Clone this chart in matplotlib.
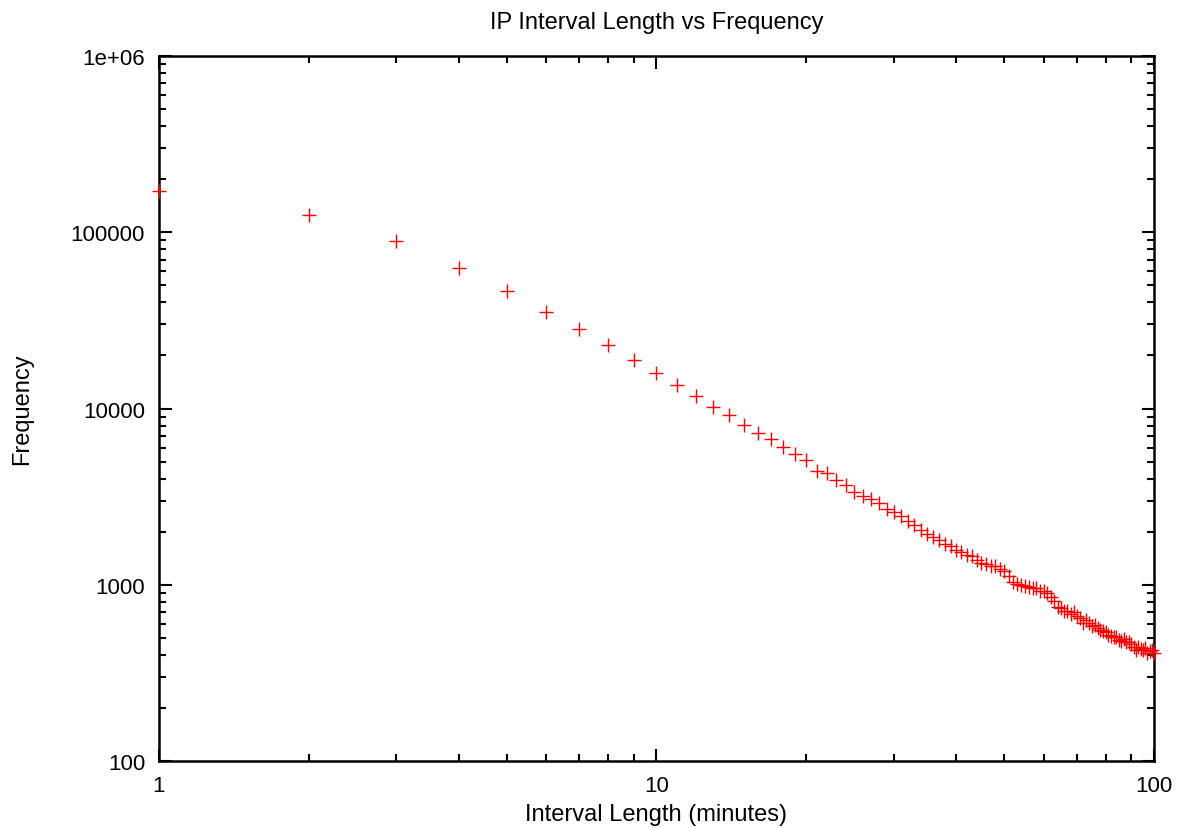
import numpy as np
import matplotlib
matplotlib.use('Agg')
import matplotlib.pyplot as plt
from matplotlib.ticker import FixedLocator, FixedFormatter, LogLocator, NullFormatter

plt.rcParams['font.family'] = ['Liberation Sans', 'DejaVu Sans']

# interval length (minutes) and how often it was seen
interval = list(range(1, 101))
freq = [171000, 125000, 89200, 62700, 46400, 35300, 28200, 22900, 18800, 15900,
        13600, 11800, 10200, 9180, 8050, 7260, 6710, 6050, 5530, 5100,
        4450, 4300, 3930, 3680, 3360, 3190, 3065, 2910, 2690, 2588,
        2455, 2300, 2183, 2045, 1940, 1866, 1795, 1703, 1660, 1575,
        1535, 1475, 1455, 1380, 1328, 1312, 1277, 1277, 1228, 1197,
        1122, 1037, 1009, 997, 984, 971, 959, 959, 921, 921,
        898, 852, 809, 748, 738, 710, 710, 682, 700, 665,
        648, 607, 631, 607, 583, 591, 568, 553, 547, 540,
        519, 512, 505, 505, 486, 480, 492, 473, 473, 461,
        443, 426, 443, 432, 426, 438, 410, 421, 426, 410]

ytick_vals = [100, 1000, 10000, 100000, 1000000]
ytick_text = ['100', '1000', '10000', '100000', '1e+06']
xtick_vals = [1, 10, 100]
xtick_text = ['1', '10', '100']

fig = plt.figure(figsize=(11.82, 8.29), dpi=100)
ax = fig.add_axes([0.1345, 0.0808, 0.8418, 0.8504])

ax.plot(interval, freq, '+', color='#ff0000', markersize=10, markeredgewidth=1.0,
        clip_on=False, zorder=3)

ax.set_xscale('log')
ax.set_yscale('log')
ax.set_xlim(1, 100)
ax.set_ylim(100, 1e6)

ax.xaxis.set_major_locator(FixedLocator(xtick_vals))
ax.xaxis.set_major_formatter(FixedFormatter(xtick_text))
ax.yaxis.set_major_locator(FixedLocator(ytick_vals))
ax.yaxis.set_major_formatter(FixedFormatter(ytick_text))
ax.xaxis.set_minor_locator(LogLocator(base=10, subs=np.arange(2, 10)))
ax.yaxis.set_minor_locator(LogLocator(base=10, subs=np.arange(2, 10)))
ax.xaxis.set_minor_formatter(NullFormatter())
ax.yaxis.set_minor_formatter(NullFormatter())

ax.tick_params(which='both', direction='in', top=True, right=True, width=1.5,
               labelsize=16, colors='black')
ax.tick_params(which='major', length=9, pad=10)
ax.tick_params(which='minor', length=5)
for s in ax.spines.values():
    s.set_linewidth(1.8)

ax.set_title('IP Interval Length vs Frequency', fontsize=17, pad=20)
# reference has this label touching the bottom edge; keep it just inside
ax.set_xlabel('Interval Length (minutes)', fontsize=17, labelpad=5)
ax.set_ylabel('Frequency', fontsize=17, labelpad=27)

fig.savefig('out.png', dpi=100)
